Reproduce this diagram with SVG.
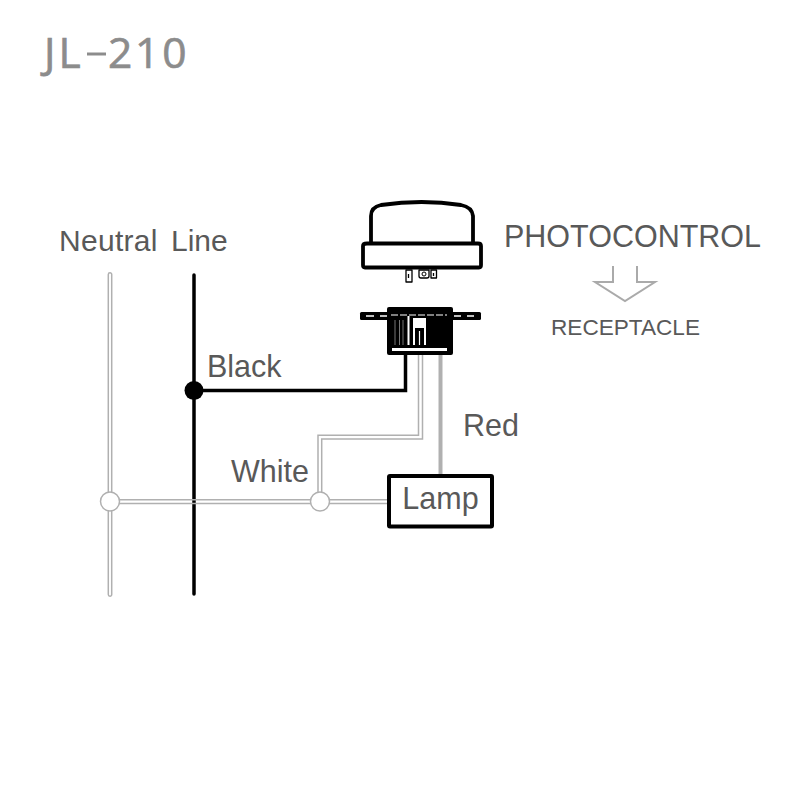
<svg xmlns="http://www.w3.org/2000/svg" width="800" height="800" viewBox="0 0 800 800">
<style>
text{font-family:"Liberation Sans",Arial,sans-serif;fill:#595959}
.ttl{font-family:"Open Sans","Noto Sans",sans-serif;fill:#8c8c8c;stroke:#8c8c8c;stroke-width:.7}
.gw{fill:#fff;stroke:#b0b0b0;stroke-width:1.5}
.gl{fill:none;stroke:#b0b0b0;stroke-width:1.5}
.bk{fill:none;stroke:#000;stroke-linejoin:round}
</style>
<rect width="800" height="800" fill="#fff"/>
<text id="title" x="44" y="68" font-size="42.500" class="ttl" letter-spacing="3.2">JL</text>
<path d="M87 54H106" stroke="#8c8c8c" stroke-width="3" fill="none"/>
<text id="title2" x="108" y="68" font-size="42.500" class="ttl" letter-spacing="2.800">210</text>
<g id="connectors">
<path class="gl" d="M108.300 493V274.500a1.700 1.700 0 0 1 3.400 0V493M108.300 510V594.500a1.700 1.700 0 0 0 3.400 0V510"/>
<path d="M194 275V594" stroke="#000" stroke-width="3.500" fill="none" stroke-linecap="round"/>
<path class="gl" d="M118 499.800H312M118 503.500H312M329 499.800H388M329 503.500H388"/>
<path class="gl" d="M318 493V435.300H418.500V355M321.700 493V439H422.500V355"/>
<path d="M194 390.500H405.500V355" stroke="#000" stroke-width="3.500" fill="none"/>
<path d="M440.500 355V475" stroke="#b0b0b0" stroke-width="4" fill="none"/>
</g>
<g id="neutral-junction"><circle class="gw" cx="110" cy="501.500" r="9.500"/></g>
<g id="white-junction"><circle class="gw" cx="320" cy="501.500" r="9.500"/></g>
<g id="line-junction"><circle cx="194" cy="390.500" r="9.500" fill="#000"/></g>
<g id="lamp"><rect x="389" y="476" width="103" height="50.500" fill="#fff" stroke="#000" stroke-width="4" rx="1"/>
<text x="440.500" y="509" font-size="30.500" text-anchor="middle">Lamp</text></g>
<g id="photocontrol">
<path class="bk" stroke-width="3.800" d="M371 243V216Q371 207 381 205Q422 199 461 205Q472 207 473 216V243" fill="#fff"/>
<path class="bk" stroke-width="3.800" d="M367 243.500H478Q481 243.500 481 246V265Q481 267.500 479 267.500H365Q363 267.500 363 265V246Q363 243.500 367 243.500Z" fill="#fff"/>
<path class="bk" stroke-width="1.300" d="M406 270H412V282H406ZM419 270H429V276Q429 278 427 278H421Q419 278 419 276ZM431 270H436.500V278H431Z"/>
<circle class="bk" cx="424" cy="274" r="2" stroke-width="1"/>
<path d="M408.500 274V278M433.500 273V276" stroke="#000" stroke-width="1.300"/>
</g>
<g id="receptacle">
<rect x="360" y="312" width="121" height="8" rx="1.500" fill="#000"/>
<path d="M366 316H374M380 316H387M454 316H461M467 316H474" stroke="#fff" stroke-width="1.300"/>
<rect x="387" y="307" width="66" height="48" rx="2" fill="#000"/>
<rect x="392" y="348" width="55" height="3" fill="#fff"/>
<path d="M391 315H447" stroke="#fff" stroke-width="1.200" stroke-dasharray="7 2"/>
<rect x="413" y="318" width="13" height="27" fill="#fff"/>
<rect x="415" y="328" width="9" height="17" fill="#000"/>
<path d="M419.500 331V345" stroke="#fff" stroke-width="1.200"/>
<path d="M395 320V345M399.500 320V345M403 320V345" stroke="#777" stroke-width="1"/>
<path d="M408.500 316V345" stroke="#fff" stroke-width="2"/>
</g>
<g id="labels">
<text x="59" y="251" font-size="30" letter-spacing=".3">Neutral</text>
<text x="171" y="251" font-size="30">Line</text>
<text x="207" y="377" font-size="30.500">Black</text>
<text x="231" y="482" font-size="30.500">White</text>
<text x="463" y="435.500" font-size="30.500">Red</text>
<text x="504" y="246.500" font-size="30.500">PHOTOCONTROL</text>
<text x="551" y="335" font-size="22.600">RECEPTACLE</text>
</g>
<path id="arrow" d="M613 266V282H595L625 301L655 282H637V266" fill="none" stroke="#aaa" stroke-width="2"/>
</svg>
